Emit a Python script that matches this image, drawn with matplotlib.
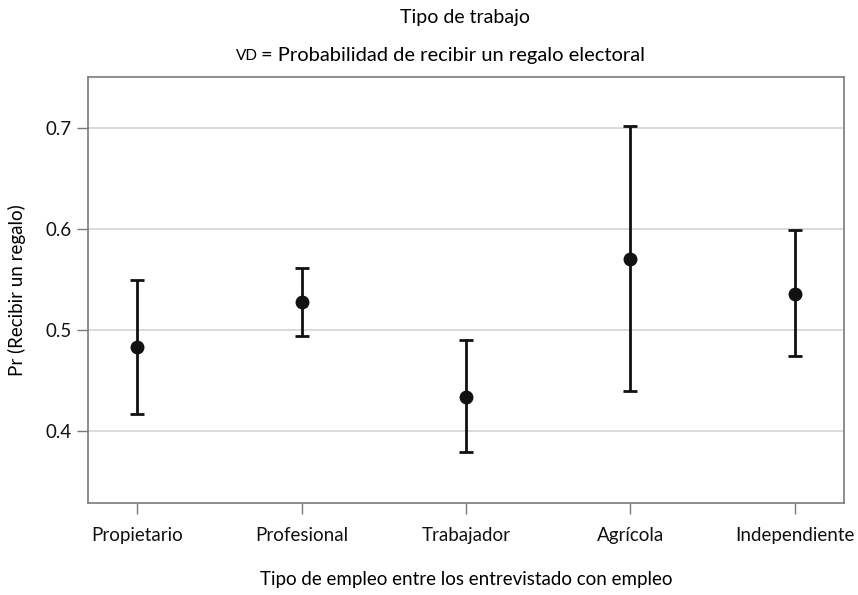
import numpy as np
import matplotlib.pyplot as plt

plt.rcParams['font.family'] = ['Lato', 'DejaVu Sans']

categorias = ['Propietario', 'Profesional', 'Trabajador', 'Agrícola', 'Independiente']
prob = [0.483, 0.528, 0.434, 0.571, 0.536]
ic_inf = [0.417, 0.494, 0.379, 0.440, 0.474]
ic_sup = [0.550, 0.562, 0.490, 0.702, 0.599]

x = np.arange(len(categorias))
prob = np.array(prob)
err = [prob - np.array(ic_inf), np.array(ic_sup) - prob]

fig = plt.figure(figsize=(8.58, 5.95), dpi=100)
ax = fig.add_axes([88 / 858, 1 - 503 / 595, (844 - 88) / 858, (503 - 77) / 595])

ax.errorbar(x, prob, yerr=err, fmt='o', color='#111111', ecolor='#111111',
            markersize=9, elinewidth=2, capsize=5, capthick=2, zorder=3)

ax.set_xlim(-0.3, 4.3)
ax.set_ylim(0.3286, 0.751)
ax.set_yticks([0.4, 0.5, 0.6, 0.7])
ax.set_yticklabels(['0.4', '0.5', '0.6', '0.7'])
ax.set_xticks(x)
ax.set_xticklabels(categorias)
ax.yaxis.grid(True, color='#d4d4d4', linewidth=1.2)
ax.set_axisbelow(True)

for s in ax.spines.values():
    s.set_color('#7a7a7a')
    s.set_linewidth(1.2)
ax.tick_params(axis='both', colors='#7a7a7a', labelcolor='#111111',
               labelsize=13.5, length=8, width=1)
ax.tick_params(axis='x', pad=9)
ax.tick_params(axis='y', pad=4)

ax.set_xlabel('Tipo de empleo entre los entrevistado con empleo', fontsize=13.5, labelpad=20)
ax.set_ylabel('Pr (Recibir un regalo)', fontsize=13.5, labelpad=14)

fig.text(465 / 858, 1 - 18 / 595, 'Tipo de trabajo', ha='center', va='center', fontsize=14)
fig.text(258 / 858, 1 - 56 / 595, 'VD', ha='right', va='center', fontsize=11)
fig.text(261 / 858, 1 - 55 / 595, '= Probabilidad de recibir un regalo electoral',
         ha='left', va='center', fontsize=14.5)

fig.savefig('out.png', dpi=100)
